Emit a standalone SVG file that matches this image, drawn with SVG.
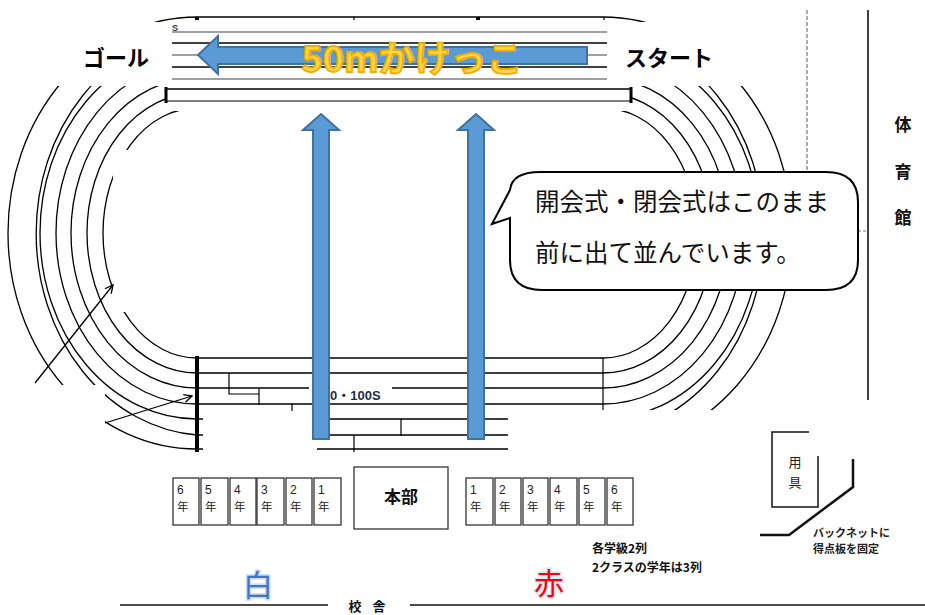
<svg xmlns="http://www.w3.org/2000/svg" width="925" height="615" viewBox="0 0 925 615">
<style>
.ln{stroke:#000;stroke-width:1.3;fill:none}
.tk{stroke:#000;stroke-width:1.2;fill:none}
.box{fill:#fff;stroke:#333;stroke-width:1.3}
.blue{fill:#5B9BD5;stroke:#41719C;stroke-width:2}
.jp{font-family:"Noto Sans CJK JP","Noto Sans",sans-serif}
.b{font-weight:bold}
.num{font-family:"Liberation Sans","Noto Sans CJK JP",sans-serif;font-size:12px;fill:#222}
.nen{font-family:"Noto Sans CJK JP",sans-serif;font-size:11.5px;fill:#222}
</style>
<defs>
<mask id="trackMask" maskUnits="userSpaceOnUse" x="0" y="0" width="925" height="615">
<rect x="0" y="0" width="925" height="615" fill="#fff"/>
<rect x="40" y="22" width="720" height="64" fill="#000"/>
<rect x="166" y="86" width="465" height="25" fill="#000"/>
<rect x="113" y="150" width="187" height="162" fill="#000"/>
<rect x="0" y="385" width="105" height="230" fill="#000"/>
<rect x="203" y="409" width="114" height="206" fill="#000"/>
<rect x="508" y="410" width="417" height="205" fill="#000"/>
</mask>
<marker id="open" viewBox="0 0 10 10" refX="9" refY="5" markerWidth="10" markerHeight="10" markerUnits="userSpaceOnUse" orient="auto">
<path d="M1,1 L9,5 L1,9" fill="none" stroke="#000" stroke-width="1.3"/>
</marker>
</defs>
<rect width="925" height="615" fill="#fff"/>

<g id="track" mask="url(#trackMask)">
<path class="ln" d="M197,108 H603 A94,125 0 0 1 603,358 H197 A94,125 0 0 1 197,108 Z"/>
<path class="ln" d="M197,93 H603 A110,140 0 0 1 603,373 H197 A110,140 0 0 1 197,93 Z"/>
<path class="ln" d="M197,78 H603 A126,155 0 0 1 603,388 H197 A126,155 0 0 1 197,78 Z"/>
<path class="ln" d="M197,62 H603 A141,171 0 0 1 603,404 H197 A141,171 0 0 1 197,62 Z"/>
<path class="ln" d="M197,47 H603 A157,186 0 0 1 603,419 H197 A157,186 0 0 1 197,47 Z"/>
<path class="ln" d="M197,32 H603 A173,202 0 0 1 603,435 H197 A173,202 0 0 1 197,32 Z"/>
<path class="ln" d="M197,17 H603 A189,216 0 0 1 603,449 H197 A189,216 0 0 1 197,17 Z"/>
</g>

<g id="track-marks">
<rect x="195" y="17" width="4" height="3" fill="#000"/>
<rect x="476" y="17" width="4" height="3" fill="#000"/>
<line class="tk" x1="354" y1="17" x2="354" y2="20"/>
<line class="tk" x1="604" y1="17" x2="604" y2="20"/>
<line x1="197" y1="356" x2="197" y2="452" stroke="#000" stroke-width="4"/>
<line class="tk" x1="603" y1="358" x2="603" y2="410"/>
<polyline class="tk" points="229,373 229,394 259,394"/>
<line class="tk" x1="259" y1="389" x2="259" y2="405"/>
<line class="tk" x1="292" y1="404" x2="292" y2="411"/>
<line class="tk" x1="401" y1="419" x2="401" y2="436"/>
<line class="tk" x1="354" y1="435" x2="354" y2="452"/>
<rect x="309" y="382" width="83" height="16" fill="#fff"/>
<text x="330" y="400" font-family="Liberation Sans,'Noto Sans CJK JP',sans-serif" font-size="13" font-weight="bold" fill="#1F2D4A">0・100S</text>
</g>

<g id="inset-50m">
<text x="172" y="31" font-family="Liberation Sans,sans-serif" font-size="9" font-weight="bold" fill="#1F3B5A">S</text>
<line x1="172" y1="32" x2="607" y2="32" stroke="#7F7F7F" stroke-width="1.5"/>
<line x1="172" y1="43" x2="607" y2="43" stroke="#000" stroke-width="1.3"/>
<line x1="172" y1="55" x2="607" y2="55" stroke="#7F7F7F" stroke-width="1.5"/>
<line x1="172" y1="67" x2="607" y2="67" stroke="#000" stroke-width="1.3"/>
<line x1="172" y1="79" x2="607" y2="79" stroke="#7F7F7F" stroke-width="1.5"/>
<line x1="165" y1="89" x2="632" y2="89" stroke="#000" stroke-width="1.3"/>
<line x1="165" y1="101" x2="632" y2="101" stroke="#555" stroke-width="1.3"/>
<line x1="166" y1="87" x2="166" y2="103" stroke="#000" stroke-width="3"/>
<line x1="631" y1="87" x2="631" y2="103" stroke="#000" stroke-width="3"/>
<polygon class="blue" points="198,55 218,36 218,47 587,47 587,64 218,64 218,74"/>
<text x="412" y="72" text-anchor="middle" class="jp b" font-size="36" fill="#FFD54A" stroke="#F2AE00" stroke-width="1.8">50mかけっこ</text>
<text x="116" y="66" text-anchor="middle" class="jp b" font-size="22" fill="#000">ゴール</text>
<text x="669" y="66" text-anchor="middle" class="jp b" font-size="22" fill="#000">スタート</text>
</g>

<g id="connectors">
<polygon class="blue" points="321,114 339,130 329,130 329,439 313,439 313,130 303,130"/>
<polygon class="blue" points="476,114 494,130 484,130 484,439 468,439 468,130 458,130"/>
<line x1="35" y1="383" x2="113" y2="285" stroke="#000" stroke-width="1.3" marker-end="url(#open)"/>
<line x1="105" y1="423" x2="192" y2="396" stroke="#000" stroke-width="1.3" marker-end="url(#open)"/>
</g>

<g id="gym">
<line x1="807" y1="10" x2="807" y2="172" stroke="#777" stroke-width="1.2" stroke-dasharray="4,2"/>
<line x1="858" y1="231" x2="868" y2="231" stroke="#777" stroke-width="1.2" stroke-dasharray="3,2"/>
<line x1="868" y1="10" x2="868" y2="400" stroke="#000" stroke-width="1.5"/>
<text x="903" y="131" text-anchor="middle" class="jp b" font-size="17" fill="#111">体</text>
<text x="903" y="178" text-anchor="middle" class="jp b" font-size="17" fill="#111">育</text>
<text x="903" y="224" text-anchor="middle" class="jp b" font-size="17" fill="#111">館</text>
</g>

<g id="callout">
<path d="M540,172 H826 Q858,172 858,202 V260 Q858,290 826,290 H542 Q510,290 510,260 V218 L492,224 L510,190 Q512,172 540,172 Z" fill="#fff" stroke="#000" stroke-width="2"/>
<text x="535" y="211" class="jp" font-size="24.5" fill="#111">開会式・閉会式はこのまま</text>
<text x="535" y="262" class="jp" font-size="24.5" fill="#111">前に出て並んでいます。</text>
</g>

<g id="white-classes">
<rect class="box" x="173" y="478" width="26" height="47"/>
<rect class="box" x="201" y="478" width="27" height="47"/>
<rect class="box" x="230" y="478" width="26" height="47"/>
<rect class="box" x="257" y="478" width="27" height="47"/>
<rect class="box" x="286" y="478" width="26" height="47"/>
<rect class="box" x="314" y="478" width="27" height="47"/>
<text class="num" x="177" y="494">6</text><text class="nen" x="177" y="511">年</text>
<text class="num" x="205" y="494">5</text><text class="nen" x="205" y="511">年</text>
<text class="num" x="234" y="494">4</text><text class="nen" x="234" y="511">年</text>
<text class="num" x="261" y="494">3</text><text class="nen" x="261" y="511">年</text>
<text class="num" x="290" y="494">2</text><text class="nen" x="290" y="511">年</text>
<text class="num" x="318" y="494">1</text><text class="nen" x="318" y="511">年</text>
</g>

<g id="honbu">
<rect class="box" x="354" y="467" width="94" height="62"/>
<text x="401" y="503" text-anchor="middle" class="jp b" font-size="17" fill="#111">本部</text>
</g>

<g id="red-classes">
<rect class="box" x="466" y="478" width="27" height="47"/>
<rect class="box" x="495" y="478" width="26" height="47"/>
<rect class="box" x="523" y="478" width="25" height="47"/>
<rect class="box" x="550" y="478" width="27" height="47"/>
<rect class="box" x="579" y="478" width="26" height="47"/>
<rect class="box" x="607" y="478" width="26" height="47"/>
<text class="num" x="470" y="494">1</text><text class="nen" x="470" y="511">年</text>
<text class="num" x="499" y="494">2</text><text class="nen" x="499" y="511">年</text>
<text class="num" x="527" y="494">3</text><text class="nen" x="527" y="511">年</text>
<text class="num" x="554" y="494">4</text><text class="nen" x="554" y="511">年</text>
<text class="num" x="583" y="494">5</text><text class="nen" x="583" y="511">年</text>
<text class="num" x="611" y="494">6</text><text class="nen" x="611" y="511">年</text>
</g>

<g id="note">
<text x="592" y="553" class="jp b" font-size="12" fill="#111">各学級2列</text>
<text x="592" y="572" class="jp b" font-size="12" fill="#111">2クラスの学年は3列</text>
</g>

<g id="yougu">
<polyline points="809,432 772,432 772,507 818,507 818,456" fill="none" stroke="#111" stroke-width="1.5"/>
<text x="795" y="467" text-anchor="middle" class="jp" font-size="13" fill="#222">用</text>
<text x="795" y="487" text-anchor="middle" class="jp" font-size="13" fill="#222">具</text>
</g>

<g id="backnet">
<polyline points="760,535 789,535 853,487 853,459" fill="none" stroke="#111" stroke-width="2.5"/>
<text x="813" y="537" class="jp b" font-size="11" fill="#222">バックネットに</text>
<text x="813" y="553" class="jp b" font-size="11" fill="#222">得点板を固定</text>
</g>

<g id="teams">
<text x="258" y="596" text-anchor="middle" class="jp" font-size="30" fill="#4472C4" stroke="#C9DDF2" stroke-width="3" paint-order="stroke">白</text>
<text x="549" y="594" text-anchor="middle" class="jp" font-size="30" fill="#FF0000" stroke="#D6E6F7" stroke-width="3" paint-order="stroke">赤</text>
</g>

<g id="school">
<line x1="120" y1="605" x2="328" y2="605" stroke="#111" stroke-width="1.5"/>
<line x1="410" y1="605" x2="925" y2="605" stroke="#111" stroke-width="1.5"/>
<text x="369" y="611" text-anchor="middle" class="jp b" font-size="13" letter-spacing="4" fill="#111">校 舎</text>
</g>
</svg>
